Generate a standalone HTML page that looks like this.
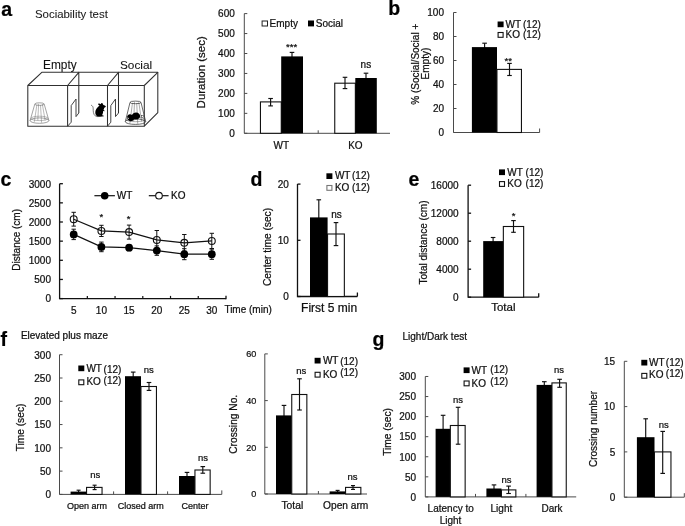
<!DOCTYPE html>
<html lang="en">
<head>
<meta charset="utf-8">
<title>Figure: sociability, open field, elevated plus maze and light/dark tests</title>
<style>
html,body{margin:0;padding:0;background:#fff;}
body{width:685px;height:526px;overflow:hidden;}
svg{display:block;font-family:"Liberation Sans",Arial,Helvetica,sans-serif;will-change:transform;}
text{stroke:#111;stroke-width:0.24px;stroke-linejoin:round;}
text.t{stroke-width:0.08px;}
</style>
</head>
<body>
<svg width="685" height="526" viewBox="0 0 685 526">
<rect width="685" height="526" fill="#fff"/>

<g id="panel-a">
<text x="1.2" y="16.2" font-size="19.5" font-weight="bold" fill="#000">a</text>
<text x="35" y="18" font-size="11.4" class="t" fill="#222">Sociability test</text>
<text x="43" y="69" font-size="11.9" class="t" fill="#111">Empty</text>
<text x="120" y="69" font-size="11.8" class="t" fill="#111">Social</text>
<g fill="none" stroke="#303030" stroke-width="1.05" stroke-linejoin="round">
<path d="M27.8 85.5H144.3V126.2H27.8Z"/>
<path d="M27.8 85.5L41.8 72.3H157.8L144.3 85.5"/>
<path d="M157.8 72.3V112.6L144.3 126.2"/>
<path d="M67.6 85.5V126.2M67.6 85.5L78.8 72.3V113"/>
<path d="M107.5 85.5V126.2M107.5 85.5L118.5 72.3V113"/>
</g>
<g fill="none" stroke="#303030" stroke-width="0.9" stroke-linejoin="miter">
<path d="M67.6 126.2L71.2 122.2V105.6L76 99V116.6L78.8 113"/>
<path d="M107.5 126.2L110.8 122.2V105.6L115.5 99V116.6L118.5 113"/>
</g>
<g fill="none" stroke="#808080" stroke-width="0.55">
<ellipse cx="39.5" cy="118.39999999999999" rx="8.5" ry="2.2"/>
<path d="M36.91 104.64L34.33 121.77"/>
<path d="M38.65 103.9L37.81 120.17"/>
<path d="M40.53 105.04L41.57 122.63"/>
<path d="M42.32 104L45.14 120.39"/>
</g>
<g fill="none" stroke="#666" stroke-width="0.6">
<ellipse cx="39.5" cy="104.1" rx="4.7" ry="1.3"/>
<ellipse cx="39.5" cy="120.6" rx="9.4" ry="2.7"/>
<path d="M34.8 104.1L30.1 120.6M44.2 104.1L48.9 120.6"/>
</g>
<g fill="none" stroke="#666" stroke-width="0.55">
<ellipse cx="135.5" cy="119.5" rx="9.299999999999999" ry="2.2"/>
<path d="M132.47 102.94L129.89 122.87"/>
<path d="M134.51 102.2L133.66 121.27"/>
<path d="M136.71 103.34L137.74 123.73"/>
<path d="M138.8 102.3L141.62 121.49"/>
</g>
<g fill="none" stroke="#3a3a3a" stroke-width="0.75">
<ellipse cx="135.5" cy="102.4" rx="5.5" ry="1.3"/>
<ellipse cx="135.5" cy="121.7" rx="10.2" ry="2.7"/>
<path d="M130 102.4L125.3 121.7M141 102.4L145.7 121.7"/>
</g>
<g id="mouse2"><path d="M127.1 117.6C127 115.8 128.3 114.4 130 114.3C130.8 114.3 131.5 114.6 132 115.1C132.6 113.5 134.3 112.5 136.2 112.6C138.5 112.7 140.2 114.4 140.1 116.3C140 118.2 138.3 119.6 136 119.6C135.3 119.6 134.6 119.5 134 119.2C133.6 120.4 132.1 121.3 130.4 121.2C128.4 121.1 127.2 119.5 127.1 117.6Z" fill="#000"/><path d="M127.6 117.2L129 118.3L127.9 119.2Z" fill="#fff"/><rect x="141.4" y="115.3" width="2" height="2.4" fill="#fff" stroke="#333" stroke-width="0.55"/></g>
<g id="mouse"><path d="M97.6 116.5C96 115.6 95.2 113.9 95.3 112.2C95.4 110.2 96.4 108.6 97.7 107.3C98.4 106.6 99.1 106 99.6 105.5C98.9 105.3 98 104.7 98.2 104C98.6 103.3 99.9 103.6 100.8 104.3C101 103.5 101.4 102.8 102 103C102.8 103.3 103.1 104.4 103.4 105.1C104.3 105.3 105.5 105.8 105.9 106.5C105.6 107.3 104.8 107.5 104.2 107.9C104.1 108.7 103.8 109.3 103.5 109.9C104.1 110.1 104.8 110.5 104.6 111C104.2 111.4 103.5 111.1 103.1 111.1C103.2 112.7 102.8 114.2 102 115.3C102.8 115.4 103.8 115.7 103.9 116.3C102.2 116.8 99.3 117 97.6 116.5Z" fill="#000"/><path d="M98.4 116.6C96 117.1 93.9 115.4 93.4 112.4C93 109.9 93.5 107.6 92.6 106.3C92.2 105.7 91.6 105.3 91.1 105.1" fill="none" stroke="#222" stroke-width="0.6"/></g>
<polyline points="244.3,13.6 244.3,133.3 390,133.3" fill="none" stroke="#4a4a4a" stroke-width="1"/>
<line x1="244.3" y1="133.3" x2="247.3" y2="133.3" stroke="#4a4a4a" stroke-width="1"/>
<line x1="244.3" y1="113.35" x2="247.3" y2="113.35" stroke="#4a4a4a" stroke-width="1"/>
<line x1="244.3" y1="93.4" x2="247.3" y2="93.4" stroke="#4a4a4a" stroke-width="1"/>
<line x1="244.3" y1="73.45" x2="247.3" y2="73.45" stroke="#4a4a4a" stroke-width="1"/>
<line x1="244.3" y1="53.5" x2="247.3" y2="53.5" stroke="#4a4a4a" stroke-width="1"/>
<line x1="244.3" y1="33.55" x2="247.3" y2="33.55" stroke="#4a4a4a" stroke-width="1"/>
<line x1="244.3" y1="13.6" x2="247.3" y2="13.6" stroke="#4a4a4a" stroke-width="1"/>
<line x1="318.2" y1="133.3" x2="318.2" y2="130.3" stroke="#4a4a4a" stroke-width="1"/>
<text x="234.8" y="137.1" font-size="10" text-anchor="end" fill="#111">0</text>
<text x="234.8" y="117.15" font-size="10" text-anchor="end" fill="#111">100</text>
<text x="234.8" y="97.2" font-size="10" text-anchor="end" fill="#111">200</text>
<text x="234.8" y="77.25" font-size="10" text-anchor="end" fill="#111">300</text>
<text x="234.8" y="57.3" font-size="10" text-anchor="end" fill="#111">400</text>
<text x="234.8" y="37.35" font-size="10" text-anchor="end" fill="#111">500</text>
<text x="234.8" y="17.4" font-size="10" text-anchor="end" fill="#111">600</text>
<rect x="260.45" y="101.9" width="20.8" height="31.4" fill="#fff" stroke="#111" stroke-width="1.1"/>
<line x1="270.6" y1="98.5" x2="270.6" y2="105.9" stroke="#111" stroke-width="1.15"/>
<line x1="268.3" y1="98.5" x2="272.9" y2="98.5" stroke="#111" stroke-width="1.15"/>
<line x1="268.3" y1="105.9" x2="272.9" y2="105.9" stroke="#111" stroke-width="1.15"/>
<line x1="292" y1="52.4" x2="292" y2="57" stroke="#111" stroke-width="1.15"/>
<line x1="289.7" y1="52.4" x2="294.3" y2="52.4" stroke="#111" stroke-width="1.15"/>
<rect x="281.2" y="56.4" width="21.8" height="76.9" fill="#000"/>
<rect x="334.75" y="83.2" width="20.6" height="50.1" fill="#fff" stroke="#111" stroke-width="1.1"/>
<line x1="345" y1="77.3" x2="345" y2="88.6" stroke="#111" stroke-width="1.15"/>
<line x1="342.7" y1="77.3" x2="347.3" y2="77.3" stroke="#111" stroke-width="1.15"/>
<line x1="342.7" y1="88.6" x2="347.3" y2="88.6" stroke="#111" stroke-width="1.15"/>
<line x1="366" y1="73.2" x2="366" y2="79" stroke="#111" stroke-width="1.15"/>
<line x1="363.7" y1="73.2" x2="368.3" y2="73.2" stroke="#111" stroke-width="1.15"/>
<rect x="355.3" y="78" width="21.5" height="55.3" fill="#000"/>
<text x="291.6" y="49.8" font-size="9.6" text-anchor="middle" fill="#111">***</text>
<text x="365.9" y="68.4" font-size="10" text-anchor="middle" fill="#111">ns</text>
<rect x="262.1" y="21" width="5.4" height="5" fill="#fff" stroke="#222" stroke-width="1"/>
<text x="269.6" y="26.8" font-size="10" fill="#111">Empty</text>
<rect x="308" y="20.5" width="6" height="5.9" fill="#000"/>
<text x="315.8" y="26.8" font-size="10" fill="#111">Social</text>
<text x="281.3" y="148.8" font-size="10" text-anchor="middle" fill="#111">WT</text>
<text x="355.4" y="148.8" font-size="10" text-anchor="middle" fill="#111">KO</text>
<text transform="translate(205.1 72.3) rotate(-90)" font-size="11.5" text-anchor="middle" fill="#111">Duration (sec)</text>
</g>
<g id="panel-b">
<text x="388.3" y="14.6" font-size="19.5" font-weight="bold" fill="#000">b</text>
<polyline points="453.5,12.5 453.5,132.5 539.6,132.5" fill="none" stroke="#4a4a4a" stroke-width="1"/>
<line x1="453.5" y1="132.5" x2="456.5" y2="132.5" stroke="#4a4a4a" stroke-width="1"/>
<line x1="453.5" y1="108.5" x2="456.5" y2="108.5" stroke="#4a4a4a" stroke-width="1"/>
<line x1="453.5" y1="84.5" x2="456.5" y2="84.5" stroke="#4a4a4a" stroke-width="1"/>
<line x1="453.5" y1="60.5" x2="456.5" y2="60.5" stroke="#4a4a4a" stroke-width="1"/>
<line x1="453.5" y1="36.5" x2="456.5" y2="36.5" stroke="#4a4a4a" stroke-width="1"/>
<line x1="453.5" y1="12.5" x2="456.5" y2="12.5" stroke="#4a4a4a" stroke-width="1"/>
<line x1="539.6" y1="132.5" x2="539.6" y2="128.5" stroke="#4a4a4a" stroke-width="1"/>
<text x="444" y="136.3" font-size="10" text-anchor="end" fill="#111">0</text>
<text x="444" y="112.3" font-size="10" text-anchor="end" fill="#111">20</text>
<text x="444" y="88.3" font-size="10" text-anchor="end" fill="#111">40</text>
<text x="444" y="64.3" font-size="10" text-anchor="end" fill="#111">60</text>
<text x="444" y="40.3" font-size="10" text-anchor="end" fill="#111">80</text>
<text x="444" y="16.3" font-size="10" text-anchor="end" fill="#111">100</text>
<line x1="484.6" y1="43.2" x2="484.6" y2="48" stroke="#111" stroke-width="1.15"/>
<line x1="482.3" y1="43.2" x2="486.9" y2="43.2" stroke="#111" stroke-width="1.15"/>
<rect x="471.9" y="47.1" width="25.1" height="85.4" fill="#000"/>
<rect x="496.95" y="69.4" width="24.5" height="63.1" fill="#fff" stroke="#111" stroke-width="1.1"/>
<line x1="509.5" y1="63.4" x2="509.5" y2="75.5" stroke="#111" stroke-width="1.15"/>
<line x1="507.2" y1="63.4" x2="511.8" y2="63.4" stroke="#111" stroke-width="1.15"/>
<line x1="507.2" y1="75.5" x2="511.8" y2="75.5" stroke="#111" stroke-width="1.15"/>
<text x="508.2" y="63.8" font-size="9.6" text-anchor="middle" fill="#111">**</text>
<rect x="497.6" y="21.5" width="6" height="5.7" fill="#000"/>
<rect x="498.1" y="32.5" width="5" height="4.8" fill="#fff" stroke="#111" stroke-width="1.1"/>
<text x="505.5" y="27.5" font-size="10" fill="#111">WT</text>
<text x="505.5" y="38" font-size="10" fill="#111">KO</text>
<text x="523" y="27.5" font-size="10" fill="#111">(12)</text>
<text x="523" y="38" font-size="10" fill="#111">(12)</text>
<text transform="translate(419.3 64.2) rotate(-90)" font-size="10" text-anchor="middle" fill="#111">% (Social/Social +</text>
<text transform="translate(429.2 63.6) rotate(-90)" font-size="10" text-anchor="middle" fill="#111">Empty)</text>
</g>
<g id="panel-c">
<text x="0.6" y="185.8" font-size="19.5" font-weight="bold" fill="#000">c</text>
<polyline points="59.6,183.7 59.6,298.6 226,298.6" fill="none" stroke="#111" stroke-width="1.3"/>
<line x1="59.6" y1="298.6" x2="62.9" y2="298.6" stroke="#111" stroke-width="1.3"/>
<line x1="59.6" y1="279.45" x2="62.9" y2="279.45" stroke="#111" stroke-width="1.3"/>
<line x1="59.6" y1="260.3" x2="62.9" y2="260.3" stroke="#111" stroke-width="1.3"/>
<line x1="59.6" y1="241.15" x2="62.9" y2="241.15" stroke="#111" stroke-width="1.3"/>
<line x1="59.6" y1="222" x2="62.9" y2="222" stroke="#111" stroke-width="1.3"/>
<line x1="59.6" y1="202.85" x2="62.9" y2="202.85" stroke="#111" stroke-width="1.3"/>
<line x1="59.6" y1="183.7" x2="62.9" y2="183.7" stroke="#111" stroke-width="1.3"/>
<line x1="87.33" y1="298.6" x2="87.33" y2="295.9" stroke="#111" stroke-width="1.2"/>
<line x1="115.06" y1="298.6" x2="115.06" y2="295.9" stroke="#111" stroke-width="1.2"/>
<line x1="142.79" y1="298.6" x2="142.79" y2="295.9" stroke="#111" stroke-width="1.2"/>
<line x1="170.52" y1="298.6" x2="170.52" y2="295.9" stroke="#111" stroke-width="1.2"/>
<line x1="198.25" y1="298.6" x2="198.25" y2="295.9" stroke="#111" stroke-width="1.2"/>
<line x1="226" y1="299.25" x2="226" y2="295.7" stroke="#111" stroke-width="1.3"/>
<text x="51" y="302.4" font-size="10" text-anchor="end" fill="#111">0</text>
<text x="51" y="283.25" font-size="10" text-anchor="end" fill="#111">500</text>
<text x="51" y="264.1" font-size="10" text-anchor="end" fill="#111">1000</text>
<text x="51" y="244.95" font-size="10" text-anchor="end" fill="#111">1500</text>
<text x="51" y="225.8" font-size="10" text-anchor="end" fill="#111">2000</text>
<text x="51" y="206.65" font-size="10" text-anchor="end" fill="#111">2500</text>
<text x="51" y="187.5" font-size="10" text-anchor="end" fill="#111">3000</text>
<line x1="73.7" y1="229.2" x2="73.7" y2="239.6" stroke="#111" stroke-width="1.0"/>
<line x1="71.5" y1="229.2" x2="75.9" y2="229.2" stroke="#111" stroke-width="1.0"/>
<line x1="71.5" y1="239.6" x2="75.9" y2="239.6" stroke="#111" stroke-width="1.0"/>
<line x1="101.4" y1="242.1" x2="101.4" y2="251.7" stroke="#111" stroke-width="1.0"/>
<line x1="99.2" y1="242.1" x2="103.6" y2="242.1" stroke="#111" stroke-width="1.0"/>
<line x1="99.2" y1="251.7" x2="103.6" y2="251.7" stroke="#111" stroke-width="1.0"/>
<line x1="129.1" y1="244.7" x2="129.1" y2="250.7" stroke="#111" stroke-width="1.0"/>
<line x1="126.9" y1="244.7" x2="131.3" y2="244.7" stroke="#111" stroke-width="1.0"/>
<line x1="126.9" y1="250.7" x2="131.3" y2="250.7" stroke="#111" stroke-width="1.0"/>
<line x1="156.8" y1="245.9" x2="156.8" y2="255.3" stroke="#111" stroke-width="1.0"/>
<line x1="154.6" y1="245.9" x2="159" y2="245.9" stroke="#111" stroke-width="1.0"/>
<line x1="154.6" y1="255.3" x2="159" y2="255.3" stroke="#111" stroke-width="1.0"/>
<line x1="184.3" y1="248.7" x2="184.3" y2="259.7" stroke="#111" stroke-width="1.0"/>
<line x1="182.1" y1="248.7" x2="186.5" y2="248.7" stroke="#111" stroke-width="1.0"/>
<line x1="182.1" y1="259.7" x2="186.5" y2="259.7" stroke="#111" stroke-width="1.0"/>
<line x1="211.8" y1="249.1" x2="211.8" y2="259.3" stroke="#111" stroke-width="1.0"/>
<line x1="209.6" y1="249.1" x2="214" y2="249.1" stroke="#111" stroke-width="1.0"/>
<line x1="209.6" y1="259.3" x2="214" y2="259.3" stroke="#111" stroke-width="1.0"/>
<circle cx="73.7" cy="219.2" r="3.4" fill="#fff"/>
<circle cx="101.4" cy="230.9" r="3.4" fill="#fff"/>
<circle cx="129.1" cy="232.1" r="3.4" fill="#fff"/>
<circle cx="156.8" cy="239.9" r="3.4" fill="#fff"/>
<circle cx="184.3" cy="242.8" r="3.4" fill="#fff"/>
<circle cx="211.8" cy="240.9" r="3.4" fill="#fff"/>
<line x1="73.7" y1="212.3" x2="73.7" y2="226.1" stroke="#111" stroke-width="1.0"/>
<line x1="71.5" y1="212.3" x2="75.9" y2="212.3" stroke="#111" stroke-width="1.0"/>
<line x1="71.5" y1="226.1" x2="75.9" y2="226.1" stroke="#111" stroke-width="1.0"/>
<line x1="101.4" y1="225.3" x2="101.4" y2="236.5" stroke="#111" stroke-width="1.0"/>
<line x1="99.2" y1="225.3" x2="103.6" y2="225.3" stroke="#111" stroke-width="1.0"/>
<line x1="99.2" y1="236.5" x2="103.6" y2="236.5" stroke="#111" stroke-width="1.0"/>
<line x1="129.1" y1="225.1" x2="129.1" y2="239.1" stroke="#111" stroke-width="1.0"/>
<line x1="126.9" y1="225.1" x2="131.3" y2="225.1" stroke="#111" stroke-width="1.0"/>
<line x1="126.9" y1="239.1" x2="131.3" y2="239.1" stroke="#111" stroke-width="1.0"/>
<line x1="156.8" y1="230.5" x2="156.8" y2="249.3" stroke="#111" stroke-width="1.0"/>
<line x1="154.6" y1="230.5" x2="159" y2="230.5" stroke="#111" stroke-width="1.0"/>
<line x1="154.6" y1="249.3" x2="159" y2="249.3" stroke="#111" stroke-width="1.0"/>
<line x1="184.3" y1="234.5" x2="184.3" y2="251.1" stroke="#111" stroke-width="1.0"/>
<line x1="182.1" y1="234.5" x2="186.5" y2="234.5" stroke="#111" stroke-width="1.0"/>
<line x1="182.1" y1="251.1" x2="186.5" y2="251.1" stroke="#111" stroke-width="1.0"/>
<line x1="211.8" y1="233.3" x2="211.8" y2="248.5" stroke="#111" stroke-width="1.0"/>
<line x1="209.6" y1="233.3" x2="214" y2="233.3" stroke="#111" stroke-width="1.0"/>
<line x1="209.6" y1="248.5" x2="214" y2="248.5" stroke="#111" stroke-width="1.0"/>
<polyline fill="none" stroke="#111" stroke-width="1.2" points="73.7,234.4 101.4,246.9 129.1,247.7 156.8,250.6 184.3,254.2 211.8,254.2"/>
<polyline fill="none" stroke="#111" stroke-width="1.2" points="73.7,219.2 101.4,230.9 129.1,232.1 156.8,239.9 184.3,242.8 211.8,240.9"/>
<circle cx="73.7" cy="234.4" r="3.9" fill="#000"/>
<circle cx="101.4" cy="246.9" r="3.9" fill="#000"/>
<circle cx="129.1" cy="247.7" r="3.9" fill="#000"/>
<circle cx="156.8" cy="250.6" r="3.9" fill="#000"/>
<circle cx="184.3" cy="254.2" r="3.9" fill="#000"/>
<circle cx="211.8" cy="254.2" r="3.9" fill="#000"/>
<circle cx="73.7" cy="219.2" r="3.45" fill="none" stroke="#111" stroke-width="1.1"/>
<circle cx="101.4" cy="230.9" r="3.45" fill="none" stroke="#111" stroke-width="1.1"/>
<circle cx="129.1" cy="232.1" r="3.45" fill="none" stroke="#111" stroke-width="1.1"/>
<circle cx="156.8" cy="239.9" r="3.45" fill="none" stroke="#111" stroke-width="1.1"/>
<circle cx="184.3" cy="242.8" r="3.45" fill="none" stroke="#111" stroke-width="1.1"/>
<circle cx="211.8" cy="240.9" r="3.45" fill="none" stroke="#111" stroke-width="1.1"/>
<line x1="94.4" y1="195.7" x2="114.9" y2="195.7" stroke="#111" stroke-width="1.2"/>
<circle cx="104.7" cy="195.7" r="3.8" fill="#000"/>
<text x="116.8" y="199.2" font-size="10" fill="#111">WT</text>
<line x1="148.8" y1="195.7" x2="168.6" y2="195.7" stroke="#111" stroke-width="1.2"/>
<circle cx="159" cy="195.7" r="3.3" fill="#fff" stroke="#111" stroke-width="1.1"/>
<text x="171" y="199.2" font-size="10" fill="#111">KO</text>
<text x="101.4" y="220.1" font-size="9.5" text-anchor="middle" fill="#111">*</text>
<text x="128.6" y="221.6" font-size="9.5" text-anchor="middle" fill="#111">*</text>
<text x="73.7" y="313.7" font-size="10" text-anchor="middle" fill="#111">5</text>
<text x="101.4" y="313.7" font-size="10" text-anchor="middle" fill="#111">10</text>
<text x="129.1" y="313.7" font-size="10" text-anchor="middle" fill="#111">15</text>
<text x="156.8" y="313.7" font-size="10" text-anchor="middle" fill="#111">20</text>
<text x="184.3" y="313.7" font-size="10" text-anchor="middle" fill="#111">25</text>
<text x="211.8" y="313.7" font-size="10" text-anchor="middle" fill="#111">30</text>
<text x="224.4" y="313.3" font-size="10" fill="#111">Time (min)</text>
<text transform="translate(19.8 239.8) rotate(-90)" font-size="10" text-anchor="middle" fill="#111">Distance (cm)</text>
</g>
<g id="panel-d">
<text x="250.6" y="185.5" font-size="19.5" font-weight="bold" fill="#000">d</text>
<polyline points="297.5,184.1 297.5,296.5 357.4,296.5" fill="none" stroke="#111" stroke-width="1.3"/>
<line x1="297.5" y1="296.5" x2="300.5" y2="296.5" stroke="#111" stroke-width="1.3"/>
<line x1="297.5" y1="240.3" x2="300.5" y2="240.3" stroke="#111" stroke-width="1.3"/>
<line x1="297.5" y1="184.1" x2="300.5" y2="184.1" stroke="#111" stroke-width="1.3"/>
<line x1="357.4" y1="296.5" x2="357.4" y2="292.5" stroke="#111" stroke-width="1.3"/>
<text x="288.8" y="300.3" font-size="10" text-anchor="end" fill="#111">0</text>
<text x="288.8" y="244.1" font-size="10" text-anchor="end" fill="#111">10</text>
<text x="288.8" y="187.9" font-size="10" text-anchor="end" fill="#111">20</text>
<line x1="318.8" y1="199.8" x2="318.8" y2="218" stroke="#111" stroke-width="1.15"/>
<line x1="316.5" y1="199.8" x2="321.1" y2="199.8" stroke="#111" stroke-width="1.15"/>
<rect x="310" y="217.4" width="17.6" height="79.1" fill="#000"/>
<rect x="327.55" y="234" width="16.8" height="62.5" fill="#fff" stroke="#111" stroke-width="1.1"/>
<line x1="336" y1="222.6" x2="336" y2="245.6" stroke="#111" stroke-width="1.15"/>
<line x1="333.7" y1="222.6" x2="338.3" y2="222.6" stroke="#111" stroke-width="1.15"/>
<line x1="333.7" y1="245.6" x2="338.3" y2="245.6" stroke="#111" stroke-width="1.15"/>
<text x="336.6" y="218" font-size="10" text-anchor="middle" fill="#111">ns</text>
<rect x="326.4" y="173.3" width="6" height="5.7" fill="#000"/>
<rect x="326.9" y="185.5" width="5" height="4.8" fill="#fff" stroke="#777" stroke-width="1.1"/>
<text x="334.9" y="179.2" font-size="10" fill="#111">WT</text>
<text x="334.9" y="191" font-size="10" fill="#111">KO</text>
<text x="352" y="179.2" font-size="10" fill="#111">(12)</text>
<text x="352" y="191" font-size="10" fill="#111">(12)</text>
<text x="329.1" y="312" font-size="12" text-anchor="middle" fill="#111">First 5 min</text>
<text transform="translate(271.2 247) rotate(-90)" font-size="10.2" text-anchor="middle" fill="#111">Center time (sec)</text>
</g>
<g id="panel-e">
<text x="408.6" y="185.5" font-size="19.5" font-weight="bold" fill="#000">e</text>
<polyline points="468.1,185.2 468.1,297.2 538.7,297.2" fill="none" stroke="#111" stroke-width="1.3"/>
<line x1="468.1" y1="297.2" x2="471.1" y2="297.2" stroke="#111" stroke-width="1.3"/>
<line x1="468.1" y1="269.2" x2="471.1" y2="269.2" stroke="#111" stroke-width="1.3"/>
<line x1="468.1" y1="241.2" x2="471.1" y2="241.2" stroke="#111" stroke-width="1.3"/>
<line x1="468.1" y1="213.2" x2="471.1" y2="213.2" stroke="#111" stroke-width="1.3"/>
<line x1="468.1" y1="185.2" x2="471.1" y2="185.2" stroke="#111" stroke-width="1.3"/>
<line x1="538.7" y1="297.2" x2="538.7" y2="293.2" stroke="#111" stroke-width="1.3"/>
<text x="458.6" y="301" font-size="10" text-anchor="end" fill="#111">0</text>
<text x="458.6" y="273" font-size="10" text-anchor="end" fill="#111">4000</text>
<text x="458.6" y="245" font-size="10" text-anchor="end" fill="#111">8000</text>
<text x="458.6" y="217" font-size="10" text-anchor="end" fill="#111">12000</text>
<text x="458.6" y="189" font-size="10" text-anchor="end" fill="#111">16000</text>
<line x1="493.1" y1="237.5" x2="493.1" y2="242" stroke="#111" stroke-width="1.15"/>
<line x1="490.8" y1="237.5" x2="495.4" y2="237.5" stroke="#111" stroke-width="1.15"/>
<rect x="483.2" y="241.1" width="20.2" height="56.1" fill="#000"/>
<rect x="503.35" y="226.5" width="20.3" height="70.7" fill="#fff" stroke="#111" stroke-width="1.1"/>
<line x1="513.5" y1="220.6" x2="513.5" y2="232.3" stroke="#111" stroke-width="1.15"/>
<line x1="511.2" y1="220.6" x2="515.8" y2="220.6" stroke="#111" stroke-width="1.15"/>
<line x1="511.2" y1="232.3" x2="515.8" y2="232.3" stroke="#111" stroke-width="1.15"/>
<text x="513.5" y="219.4" font-size="9.5" text-anchor="middle" fill="#111">*</text>
<rect x="499" y="169.4" width="6" height="5.7" fill="#000"/>
<rect x="499.5" y="181.6" width="5" height="4.8" fill="#fff" stroke="#111" stroke-width="1.1"/>
<text x="507.3" y="175.5" font-size="10" fill="#111">WT</text>
<text x="507.3" y="187.3" font-size="10" fill="#111">KO</text>
<text x="525.6" y="175.5" font-size="10" fill="#111">(12)</text>
<text x="525.6" y="187.3" font-size="10" fill="#111">(12)</text>
<text x="503.3" y="311" font-size="11.5" text-anchor="middle" fill="#111">Total</text>
<text transform="translate(427 242.5) rotate(-90)" font-size="10" text-anchor="middle" fill="#111">Total distance (cm)</text>
</g>
<g id="panel-f">
<text x="0.5" y="345.5" font-size="19.5" font-weight="bold" fill="#000">f</text>
<text x="20.9" y="339.2" font-size="10" fill="#111">Elevated plus maze</text>
<polyline points="59.5,354.72 59.5,494.4 221.8,494.4" fill="none" stroke="#4a4a4a" stroke-width="1"/>
<line x1="59.5" y1="494.4" x2="62.5" y2="494.4" stroke="#4a4a4a" stroke-width="1"/>
<line x1="59.5" y1="471.12" x2="62.5" y2="471.12" stroke="#4a4a4a" stroke-width="1"/>
<line x1="59.5" y1="447.84" x2="62.5" y2="447.84" stroke="#4a4a4a" stroke-width="1"/>
<line x1="59.5" y1="424.56" x2="62.5" y2="424.56" stroke="#4a4a4a" stroke-width="1"/>
<line x1="59.5" y1="401.28" x2="62.5" y2="401.28" stroke="#4a4a4a" stroke-width="1"/>
<line x1="59.5" y1="378" x2="62.5" y2="378" stroke="#4a4a4a" stroke-width="1"/>
<line x1="59.5" y1="354.72" x2="62.5" y2="354.72" stroke="#4a4a4a" stroke-width="1"/>
<line x1="113.6" y1="494.4" x2="113.6" y2="491.4" stroke="#4a4a4a" stroke-width="1"/>
<line x1="167.6" y1="494.4" x2="167.6" y2="491.4" stroke="#4a4a4a" stroke-width="1"/>
<line x1="221.8" y1="494.4" x2="221.8" y2="490.4" stroke="#4a4a4a" stroke-width="1"/>
<text x="51" y="498.2" font-size="10" text-anchor="end" fill="#111">0</text>
<text x="51" y="474.92" font-size="10" text-anchor="end" fill="#111">50</text>
<text x="51" y="451.64" font-size="10" text-anchor="end" fill="#111">100</text>
<text x="51" y="428.36" font-size="10" text-anchor="end" fill="#111">150</text>
<text x="51" y="405.08" font-size="10" text-anchor="end" fill="#111">200</text>
<text x="51" y="381.8" font-size="10" text-anchor="end" fill="#111">250</text>
<text x="51" y="358.52" font-size="10" text-anchor="end" fill="#111">300</text>
<line x1="78.6" y1="490.2" x2="78.6" y2="492" stroke="#111" stroke-width="1.15"/>
<line x1="76.6" y1="490.2" x2="80.6" y2="490.2" stroke="#111" stroke-width="1.15"/>
<rect x="70.6" y="491.6" width="16" height="2.8" fill="#000"/>
<rect x="86.55" y="487.4" width="15.5" height="7" fill="#fff" stroke="#111" stroke-width="1.1"/>
<line x1="94.6" y1="485.2" x2="94.6" y2="489.6" stroke="#111" stroke-width="1.15"/>
<line x1="92.6" y1="485.2" x2="96.6" y2="485.2" stroke="#111" stroke-width="1.15"/>
<line x1="92.6" y1="489.6" x2="96.6" y2="489.6" stroke="#111" stroke-width="1.15"/>
<line x1="133.2" y1="372.1" x2="133.2" y2="377" stroke="#111" stroke-width="1.15"/>
<line x1="130.9" y1="372.1" x2="135.5" y2="372.1" stroke="#111" stroke-width="1.15"/>
<rect x="125" y="376.2" width="16" height="118.2" fill="#000"/>
<rect x="140.95" y="386.5" width="15.5" height="107.9" fill="#fff" stroke="#111" stroke-width="1.1"/>
<line x1="149" y1="382.5" x2="149" y2="390.4" stroke="#111" stroke-width="1.15"/>
<line x1="146.7" y1="382.5" x2="151.3" y2="382.5" stroke="#111" stroke-width="1.15"/>
<line x1="146.7" y1="390.4" x2="151.3" y2="390.4" stroke="#111" stroke-width="1.15"/>
<line x1="187" y1="472.4" x2="187" y2="477" stroke="#111" stroke-width="1.15"/>
<line x1="184.7" y1="472.4" x2="189.3" y2="472.4" stroke="#111" stroke-width="1.15"/>
<rect x="179" y="476" width="16" height="18.4" fill="#000"/>
<rect x="194.95" y="470" width="15.2" height="24.4" fill="#fff" stroke="#111" stroke-width="1.1"/>
<line x1="202.8" y1="466.6" x2="202.8" y2="473.2" stroke="#111" stroke-width="1.15"/>
<line x1="200.5" y1="466.6" x2="205.1" y2="466.6" stroke="#111" stroke-width="1.15"/>
<line x1="200.5" y1="473.2" x2="205.1" y2="473.2" stroke="#111" stroke-width="1.15"/>
<text x="95.2" y="477.6" font-size="9.5" text-anchor="middle" fill="#111">ns</text>
<text x="148.7" y="372.6" font-size="9.5" text-anchor="middle" fill="#111">ns</text>
<text x="203" y="460.6" font-size="9.5" text-anchor="middle" fill="#111">ns</text>
<rect x="78.3" y="365.5" width="6" height="5.7" fill="#000"/>
<rect x="78.8" y="379.9" width="5" height="4.8" fill="#fff" stroke="#111" stroke-width="1.1"/>
<text x="86.4" y="371.6" font-size="10" fill="#111">WT</text>
<text x="86.4" y="385.3" font-size="10" fill="#111">KO</text>
<text x="103.6" y="373.1" font-size="10" fill="#111">(12)</text>
<text x="103.6" y="383.7" font-size="10" fill="#111">(12)</text>
<text x="87" y="508.6" font-size="9" text-anchor="middle" fill="#111">Open arm</text>
<text x="140.8" y="508.6" font-size="9" text-anchor="middle" fill="#111">Closed arm</text>
<text x="195.1" y="508.6" font-size="9" text-anchor="middle" fill="#111">Center</text>
<text transform="translate(23.8 427.5) rotate(-90)" font-size="10.2" text-anchor="middle" fill="#111">Time (sec)</text>
<polyline points="264.8,353.9 264.8,494 367,494" fill="none" stroke="#4a4a4a" stroke-width="1"/>
<line x1="264.8" y1="494" x2="267.8" y2="494" stroke="#4a4a4a" stroke-width="1"/>
<line x1="264.8" y1="447.3" x2="267.8" y2="447.3" stroke="#4a4a4a" stroke-width="1"/>
<line x1="264.8" y1="400.6" x2="267.8" y2="400.6" stroke="#4a4a4a" stroke-width="1"/>
<line x1="264.8" y1="353.9" x2="267.8" y2="353.9" stroke="#4a4a4a" stroke-width="1"/>
<line x1="318.4" y1="494" x2="318.4" y2="491" stroke="#4a4a4a" stroke-width="1"/>
<text x="256.3" y="497.46" font-size="9.1" text-anchor="end" fill="#111">0</text>
<text x="256.3" y="450.76" font-size="9.1" text-anchor="end" fill="#111">20</text>
<text x="256.3" y="404.06" font-size="9.1" text-anchor="end" fill="#111">40</text>
<text x="256.3" y="357.36" font-size="9.1" text-anchor="end" fill="#111">60</text>
<line x1="284" y1="405.4" x2="284" y2="416" stroke="#111" stroke-width="1.15"/>
<line x1="281.7" y1="405.4" x2="286.3" y2="405.4" stroke="#111" stroke-width="1.15"/>
<rect x="276" y="415.4" width="15.8" height="78.6" fill="#000"/>
<rect x="291.75" y="394.5" width="15.1" height="99.5" fill="#fff" stroke="#111" stroke-width="1.1"/>
<line x1="299.5" y1="378.8" x2="299.5" y2="410" stroke="#111" stroke-width="1.15"/>
<line x1="297.2" y1="378.8" x2="301.8" y2="378.8" stroke="#111" stroke-width="1.15"/>
<line x1="297.2" y1="410" x2="301.8" y2="410" stroke="#111" stroke-width="1.15"/>
<line x1="337.6" y1="490.4" x2="337.6" y2="492" stroke="#111" stroke-width="1.15"/>
<line x1="335.6" y1="490.4" x2="339.6" y2="490.4" stroke="#111" stroke-width="1.15"/>
<rect x="329.6" y="491.4" width="16" height="2.6" fill="#000"/>
<rect x="345.55" y="487.4" width="15.3" height="6.6" fill="#fff" stroke="#111" stroke-width="1.1"/>
<line x1="353" y1="485.6" x2="353" y2="489.4" stroke="#111" stroke-width="1.15"/>
<line x1="351" y1="485.6" x2="355" y2="485.6" stroke="#111" stroke-width="1.15"/>
<line x1="351" y1="489.4" x2="355" y2="489.4" stroke="#111" stroke-width="1.15"/>
<text x="301.2" y="374" font-size="9.5" text-anchor="middle" fill="#111">ns</text>
<text x="352.6" y="479.6" font-size="9.5" text-anchor="middle" fill="#111">ns</text>
<rect x="314.6" y="357.8" width="6" height="5.7" fill="#000"/>
<rect x="315.1" y="372.3" width="5" height="4.8" fill="#fff" stroke="#111" stroke-width="1.1"/>
<text x="322.9" y="363.7" font-size="10" fill="#111">WT</text>
<text x="322.9" y="377.8" font-size="10" fill="#111">KO</text>
<text x="340.2" y="365.2" font-size="10" fill="#111">(12)</text>
<text x="340.2" y="375.6" font-size="10" fill="#111">(12)</text>
<text x="292.3" y="509.3" font-size="10.3" text-anchor="middle" fill="#111">Total</text>
<text x="345.7" y="509.1" font-size="10.2" text-anchor="middle" fill="#111">Open arm</text>
<text transform="translate(237.2 424.3) rotate(-90)" font-size="10.2" text-anchor="middle" fill="#111">Crossing No.</text>
</g>
<g id="panel-g">
<text x="372.6" y="345.6" font-size="19.5" font-weight="bold" fill="#000">g</text>
<text x="402.5" y="339.6" font-size="10" fill="#111">Light/Dark test</text>
<polyline points="425.3,376.48 425.3,496.9 576.2,496.9" fill="none" stroke="#4a4a4a" stroke-width="1"/>
<line x1="425.3" y1="496.9" x2="428.3" y2="496.9" stroke="#4a4a4a" stroke-width="1"/>
<line x1="425.3" y1="476.83" x2="428.3" y2="476.83" stroke="#4a4a4a" stroke-width="1"/>
<line x1="425.3" y1="456.76" x2="428.3" y2="456.76" stroke="#4a4a4a" stroke-width="1"/>
<line x1="425.3" y1="436.69" x2="428.3" y2="436.69" stroke="#4a4a4a" stroke-width="1"/>
<line x1="425.3" y1="416.62" x2="428.3" y2="416.62" stroke="#4a4a4a" stroke-width="1"/>
<line x1="425.3" y1="396.55" x2="428.3" y2="396.55" stroke="#4a4a4a" stroke-width="1"/>
<line x1="425.3" y1="376.48" x2="428.3" y2="376.48" stroke="#4a4a4a" stroke-width="1"/>
<line x1="475.5" y1="496.9" x2="475.5" y2="493.9" stroke="#4a4a4a" stroke-width="1"/>
<line x1="525.9" y1="496.9" x2="525.9" y2="493.9" stroke="#4a4a4a" stroke-width="1"/>
<text x="416" y="500.7" font-size="10" text-anchor="end" fill="#111">0</text>
<text x="416" y="480.63" font-size="10" text-anchor="end" fill="#111">50</text>
<text x="416" y="460.56" font-size="10" text-anchor="end" fill="#111">100</text>
<text x="416" y="440.49" font-size="10" text-anchor="end" fill="#111">150</text>
<text x="416" y="420.42" font-size="10" text-anchor="end" fill="#111">200</text>
<text x="416" y="400.35" font-size="10" text-anchor="end" fill="#111">250</text>
<text x="416" y="380.28" font-size="10" text-anchor="end" fill="#111">300</text>
<line x1="443.1" y1="415.3" x2="443.1" y2="430" stroke="#111" stroke-width="1.15"/>
<line x1="440.8" y1="415.3" x2="445.4" y2="415.3" stroke="#111" stroke-width="1.15"/>
<rect x="435.6" y="428.8" width="14.8" height="68.1" fill="#000"/>
<rect x="450.35" y="425.5" width="14.8" height="71.4" fill="#fff" stroke="#111" stroke-width="1.1"/>
<line x1="458.1" y1="407.3" x2="458.1" y2="444.2" stroke="#111" stroke-width="1.15"/>
<line x1="455.8" y1="407.3" x2="460.4" y2="407.3" stroke="#111" stroke-width="1.15"/>
<line x1="455.8" y1="444.2" x2="460.4" y2="444.2" stroke="#111" stroke-width="1.15"/>
<line x1="494" y1="484.9" x2="494" y2="489" stroke="#111" stroke-width="1.15"/>
<line x1="491.7" y1="484.9" x2="496.3" y2="484.9" stroke="#111" stroke-width="1.15"/>
<rect x="486.4" y="488.5" width="15.1" height="8.4" fill="#000"/>
<rect x="501.45" y="489.9" width="14.4" height="7" fill="#fff" stroke="#111" stroke-width="1.1"/>
<line x1="508.6" y1="486.1" x2="508.6" y2="493.5" stroke="#111" stroke-width="1.15"/>
<line x1="506.3" y1="486.1" x2="510.9" y2="486.1" stroke="#111" stroke-width="1.15"/>
<line x1="506.3" y1="493.5" x2="510.9" y2="493.5" stroke="#111" stroke-width="1.15"/>
<line x1="544.3" y1="381.7" x2="544.3" y2="386" stroke="#111" stroke-width="1.15"/>
<line x1="542" y1="381.7" x2="546.6" y2="381.7" stroke="#111" stroke-width="1.15"/>
<rect x="536.6" y="384.9" width="15.4" height="112" fill="#000"/>
<rect x="551.95" y="382.9" width="14.3" height="114" fill="#fff" stroke="#111" stroke-width="1.1"/>
<line x1="559.6" y1="379.3" x2="559.6" y2="387.3" stroke="#111" stroke-width="1.15"/>
<line x1="557.3" y1="379.3" x2="561.9" y2="379.3" stroke="#111" stroke-width="1.15"/>
<line x1="557.3" y1="387.3" x2="561.9" y2="387.3" stroke="#111" stroke-width="1.15"/>
<text x="457.9" y="402.6" font-size="9.5" text-anchor="middle" fill="#111">ns</text>
<text x="506.4" y="482.5" font-size="9.5" text-anchor="middle" fill="#111">ns</text>
<text x="559" y="372.9" font-size="9.5" text-anchor="middle" fill="#111">ns</text>
<rect x="463.6" y="367.4" width="6" height="5.7" fill="#000"/>
<rect x="464.1" y="381" width="5" height="4.8" fill="#fff" stroke="#111" stroke-width="1.1"/>
<text x="471.5" y="373.6" font-size="10" fill="#111">WT</text>
<text x="471.5" y="386.5" font-size="10" fill="#111">KO</text>
<text x="490.3" y="372.6" font-size="10" fill="#111">(12)</text>
<text x="490.3" y="385" font-size="10" fill="#111">(12)</text>
<text x="450.7" y="511.7" font-size="10" text-anchor="middle" fill="#111">Latency to</text>
<text x="450.5" y="524.4" font-size="10" text-anchor="middle" fill="#111">Light</text>
<text x="501.4" y="511.7" font-size="10" text-anchor="middle" fill="#111">Light</text>
<text x="552" y="511.7" font-size="10" text-anchor="middle" fill="#111">Dark</text>
<text transform="translate(390.6 432) rotate(-90)" font-size="10.2" text-anchor="middle" fill="#111">Time (sec)</text>
<polyline points="624.3,361.3 624.3,497.2 684.3,497.2" fill="none" stroke="#4a4a4a" stroke-width="1"/>
<line x1="624.3" y1="497.2" x2="627.3" y2="497.2" stroke="#4a4a4a" stroke-width="1"/>
<line x1="624.3" y1="451.9" x2="627.3" y2="451.9" stroke="#4a4a4a" stroke-width="1"/>
<line x1="624.3" y1="406.6" x2="627.3" y2="406.6" stroke="#4a4a4a" stroke-width="1"/>
<line x1="624.3" y1="361.3" x2="627.3" y2="361.3" stroke="#4a4a4a" stroke-width="1"/>
<line x1="684.3" y1="497.2" x2="684.3" y2="493.2" stroke="#4a4a4a" stroke-width="1"/>
<text x="615.2" y="501" font-size="10" text-anchor="end" fill="#111">0</text>
<text x="615.2" y="455.7" font-size="10" text-anchor="end" fill="#111">5</text>
<text x="615.2" y="410.4" font-size="10" text-anchor="end" fill="#111">10</text>
<text x="615.2" y="365.1" font-size="10" text-anchor="end" fill="#111">15</text>
<line x1="645.7" y1="418.8" x2="645.7" y2="438" stroke="#111" stroke-width="1.15"/>
<line x1="643.4" y1="418.8" x2="648" y2="418.8" stroke="#111" stroke-width="1.15"/>
<rect x="636.9" y="437.2" width="17.6" height="60" fill="#000"/>
<rect x="654.45" y="451.9" width="16.5" height="45.3" fill="#fff" stroke="#111" stroke-width="1.1"/>
<line x1="662.7" y1="431.4" x2="662.7" y2="473.4" stroke="#111" stroke-width="1.15"/>
<line x1="660.4" y1="431.4" x2="665" y2="431.4" stroke="#111" stroke-width="1.15"/>
<line x1="660.4" y1="473.4" x2="665" y2="473.4" stroke="#111" stroke-width="1.15"/>
<text x="663.7" y="428.1" font-size="9.5" text-anchor="middle" fill="#111">ns</text>
<rect x="641.3" y="359.8" width="6" height="5.7" fill="#000"/>
<rect x="641.8" y="373.4" width="5" height="4.8" fill="#fff" stroke="#111" stroke-width="1.1"/>
<text x="649.1" y="365.9" font-size="10" fill="#111">WT</text>
<text x="649.1" y="378.4" font-size="10" fill="#111">KO</text>
<text x="665.8" y="365.9" font-size="10" fill="#111">(12)</text>
<text x="665.8" y="377.3" font-size="10" fill="#111">(12)</text>
<text transform="translate(597.3 429) rotate(-90)" font-size="10" text-anchor="middle" fill="#111">Crossing number</text>
</g>
</svg>
</body>
</html>
